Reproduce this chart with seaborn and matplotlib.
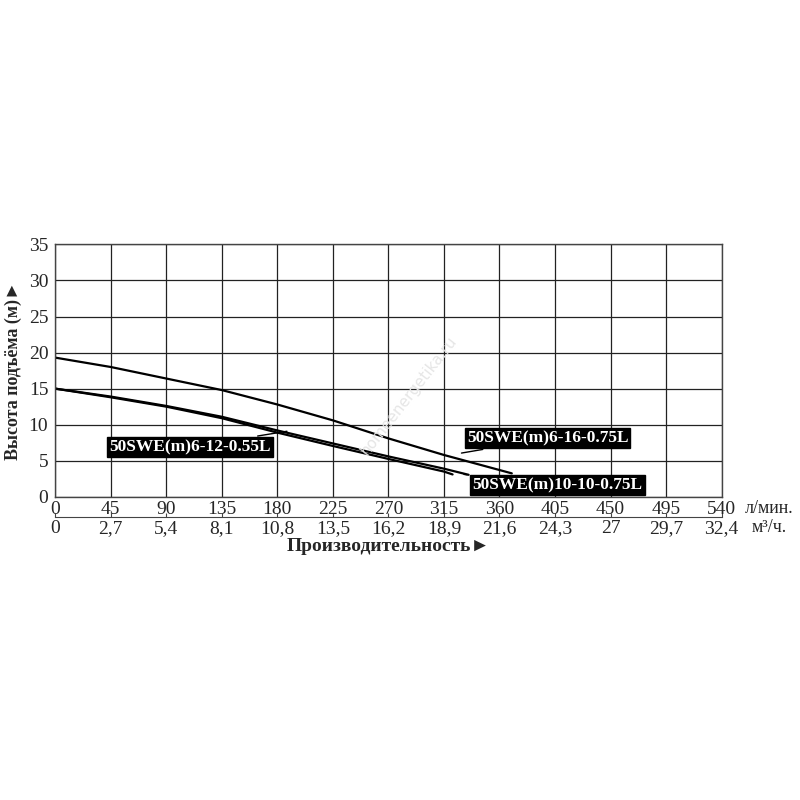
import pandas as pd
import matplotlib
matplotlib.use('Agg')
import matplotlib.pyplot as plt
import seaborn as sns

# flow, l/min  -> head, m
q_6_16 = [0, 45, 90, 135, 180, 225, 270, 315, 370]
h_6_16 = [19.3, 18.0, 16.4, 14.8, 12.8, 10.6, 8.1, 5.8, 3.25]

q_10_10 = [0, 45, 90, 135, 180, 225, 270, 315, 335]
h_10_10 = [15.0, 13.9, 12.6, 11.1, 9.2, 7.4, 5.6, 3.9, 3.05]

q_6_12 = [0, 45, 90, 135, 180, 225, 270, 315, 322]
h_6_12 = [15.0, 13.8, 12.5, 10.9, 8.9, 7.05, 5.25, 3.5, 3.1]

lmin_ticks = [0, 45, 90, 135, 180, 225, 270, 315, 360, 405, 450, 495, 540]
m3h_labels = ['0', '2,7', '5,4', '8,1', '10,8', '13,5', '16,2', '18,9',
              '21,6', '24,3', '27', '29,7', '32,4']
y_ticks = [0, 5, 10, 15, 20, 25, 30, 35]

rows = []
for name, q, h in [('50SWE(m)6-16-0.75L', q_6_16, h_6_16),
                   ('50SWE(m)10-10-0.75L', q_10_10, h_10_10),
                   ('50SWE(m)6-12-0.55L', q_6_12, h_6_12)]:
    for a, b in zip(q, h):
        rows.append({'model': name, 'q': a, 'h': b})
df = pd.DataFrame(rows)

sns.set_style('white')
plt.rcParams['font.family'] = ['Liberation Serif', 'DejaVu Serif']

fig = plt.figure(figsize=(8, 8), dpi=100)
ax = fig.add_axes([0.069, 0.379, 0.833, 0.3155])

sns.lineplot(data=df, x='q', y='h', units='model', estimator=None,
             color='black', lw=1.6, sort=False, ax=ax)

ax.set_xlim(0, 540)
ax.set_ylim(0, 35)
ax.set_xticks(lmin_ticks)
ax.set_yticks(y_ticks)
ax.set_xticklabels([str(t) for t in lmin_ticks], fontsize=14)
ax.set_yticklabels([str(t) for t in y_ticks], fontsize=14)
ax.tick_params(axis='x', length=0, pad=3)
ax.tick_params(axis='y', length=0, pad=5)
ax.grid(True, color='#222222', lw=0.9)
for s in ax.spines.values():
    s.set_color('#444444')
    s.set_linewidth(1.0)
ax.set_xlabel('')
ax.set_ylabel('Высота подъёма (м)►', fontsize=13, fontweight='bold', labelpad=5)

# second flow axis in m3/h
sec = ax.secondary_xaxis(-0.0805, functions=(lambda x: x * 0.06, lambda x: x / 0.06))
sec.set_xticks([t * 0.06 for t in lmin_ticks])
sec.set_xticklabels(m3h_labels, fontsize=14)
sec.tick_params(axis='x', direction='in', length=3, pad=2, color='#444444')
sec.spines['bottom'].set_color('#444444')

ax.text(1.035, -0.045, 'л/мин.', transform=ax.transAxes, fontsize=13,
        ha='left', va='center')
ax.text(1.045, -0.12, 'м³/ч.', transform=ax.transAxes, fontsize=13,
        ha='left', va='center')
ax.text(0.50, -0.198, 'Производительность►', transform=ax.transAxes, fontsize=14,
        fontweight='bold', ha='center', va='center')

# model labels with pointers
box = dict(boxstyle='square,pad=0.12', fc='black', ec='black')
ax.annotate('50SWE(m)6-12-0.55L', xy=(190, 9.15), xytext=(109, 6.9),
            color='white', fontsize=12.5, fontweight='bold', ha='center', va='center',
            bbox=box, arrowprops=dict(arrowstyle='-', color='black', lw=1.0))
ax.annotate('50SWE(m)6-16-0.75L', xy=(327, 6.0), xytext=(399, 8.1),
            color='white', fontsize=12.5, fontweight='bold', ha='center', va='center',
            bbox=box, arrowprops=dict(arrowstyle='-', color='black', lw=1.0))
ax.annotate('50SWE(m)10-10-0.75L', xy=(329, 3.15), xytext=(407, 1.6),
            color='white', fontsize=12.5, fontweight='bold', ha='center', va='center',
            bbox=box, arrowprops=dict(arrowstyle='-', color='black', lw=1.0))

ax.text(0.53, 0.40, 'homeenergetika.ru', transform=ax.transAxes, fontsize=11,
        color='#e6e6e6', rotation=52, ha='center', va='center', family='DejaVu Sans')

fig.savefig('out.png', dpi=100)
